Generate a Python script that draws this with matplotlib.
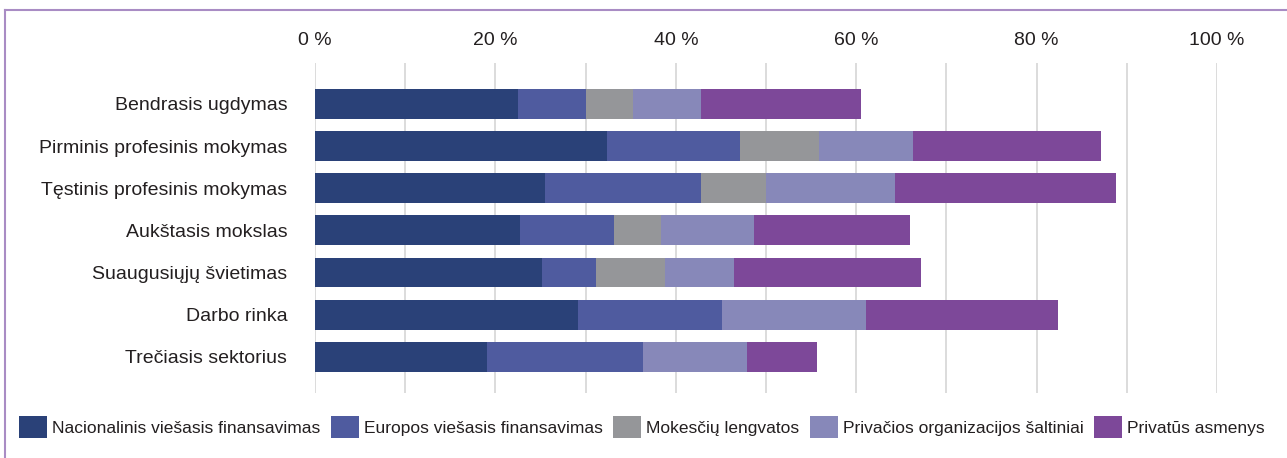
import matplotlib
matplotlib.use("Agg")
import matplotlib.pyplot as plt
from matplotlib.lines import Line2D
import numpy as np

categories = [
    "Bendrasis ugdymas",
    "Pirminis profesinis mokymas",
    "Tęstinis profesinis mokymas",
    "Aukštasis mokslas",
    "Suaugusiųjų švietimas",
    "Darbo rinka",
    "Trečiasis sektorius",
]
series_names = [
    "Nacionalinis viešasis finansavimas",
    "Europos viešasis finansavimas",
    "Mokesčių lengvatos",
    "Privačios organizacijos šaltiniai",
    "Privatūs asmenys",
]
nacionalinis = [22.5, 32.4, 25.5, 22.7, 25.2, 29.2, 19.1]
europos = [7.5, 14.7, 17.3, 10.4, 6.0, 15.9, 17.3]
mokesciu = [5.2, 8.8, 7.2, 5.3, 7.6, 0.0, 0.0]
privacios_org = [7.6, 10.4, 14.3, 10.3, 7.6, 16.0, 11.5]
privatus = [17.7, 20.8, 24.5, 17.3, 20.8, 21.3, 7.7]
tick_values = [0, 20, 40, 60, 80, 100]

colors = ["#2a4178", "#4f5b9f", "#959699", "#8788b9", "#7d4899"]
text_color = "#231f20"

plt.rcParams["font.family"] = ["Liberation Sans", "DejaVu Sans"]

fig = plt.figure(figsize=(12.87, 4.58), dpi=100)
ax = fig.add_axes([0.2448, 0.1419, 0.7008, 0.7205])

y = np.arange(len(categories))
left = np.zeros(len(categories))
for name, vals, color in zip(
    series_names,
    [nacionalinis, europos, mokesciu, privacios_org, privatus],
    colors,
):
    vals = np.array(vals)
    ax.barh(y, vals, left=left, height=0.71, color=color, label=name, zorder=3)
    left += vals

ax.set_xlim(0, 100)
ax.set_ylim(6.86, -0.97)
ax.set_yticks(y)
ax.set_yticklabels(categories, fontsize=14, color=text_color)
ax.set_xticks(tick_values)
ax.set_xticklabels([f"{v} %" for v in tick_values], fontsize=14, color=text_color)
ax.set_xticks(np.arange(0, 101, 10), minor=True)
ax.xaxis.tick_top()
ax.tick_params(axis="x", which="both", length=0, pad=10)
ax.tick_params(axis="y", length=0, pad=20)
ax.grid(axis="x", which="both", color="#d9d9d9", linewidth=1.3, zorder=0)
for spine in ax.spines.values():
    spine.set_visible(False)

fig.legend(
    loc="center left",
    bbox_to_anchor=(0.003, 0.068),
    ncol=5,
    frameon=False,
    fontsize=12.5,
    handlelength=1.6,
    handleheight=1.6,
    handletextpad=0.3,
    columnspacing=0.6,
    labelcolor=text_color,
)

# thin purple frame along top and left edges
border = "#a98cc4"
fig.lines.append(Line2D([0.004, 1.0], [0.979, 0.979], transform=fig.transFigure,
                        color=border, linewidth=1.5))
fig.lines.append(Line2D([0.004, 0.004], [0.0, 0.979], transform=fig.transFigure,
                        color=border, linewidth=1.5))

fig.savefig("out.png", dpi=100)
